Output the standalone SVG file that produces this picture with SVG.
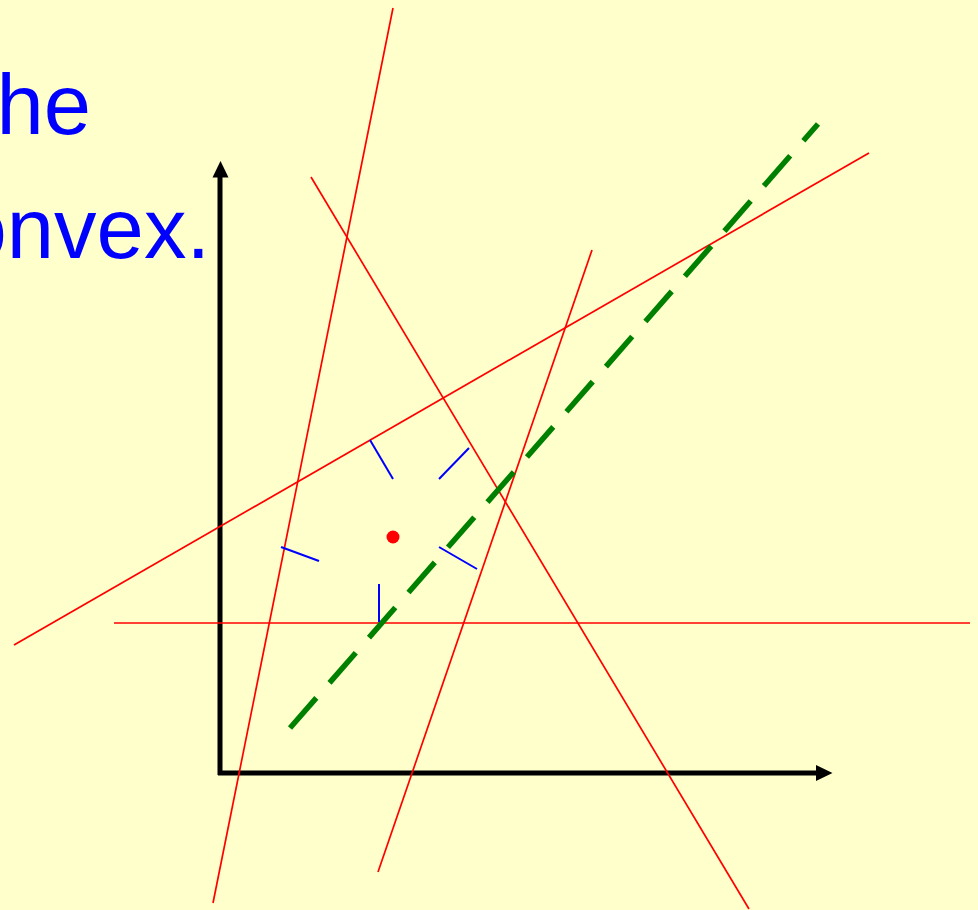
<svg xmlns="http://www.w3.org/2000/svg" width="978" height="910" viewBox="0 0 978 910">
<style>
.bg{fill:#FFFFCC}
.txt{font-family:"Liberation Sans",Arial,sans-serif;font-size:85px;fill:#0000FF}
.red{stroke:#FF0000;stroke-width:1.7;fill:none}
.normal{stroke:#0000FF;stroke-width:2;fill:none}
.axis{stroke:#000000;stroke-width:5;fill:none}
.head{fill:#000000}
.green{stroke:#008000;stroke-width:5.5;fill:none;stroke-dasharray:40 20}
</style>
<rect class="bg" x="0" y="0" width="978" height="910"/>
<g id="text">
<text class="txt" x="91" y="134" text-anchor="end">he</text>
<text class="txt" x="210" y="258" text-anchor="end">onvex.</text>
</g>
<g id="axes">
<line class="axis" x1="220" y1="775" x2="220" y2="174"/>
<polygon class="head" points="220.5,161 212.5,177.5 228.5,177.5"/>
<line class="axis" x1="218" y1="773" x2="819" y2="773"/>
<polygon class="head" points="832.5,773 816,765 816,781"/>
</g>
<g id="connectors">
<line class="red" x1="393" y1="8" x2="213" y2="903"/>
<line class="red" x1="311" y1="177" x2="749" y2="909"/>
<line class="red" x1="592" y1="250" x2="378" y2="872"/>
<line class="red" x1="869" y1="153" x2="14" y2="645"/>
<line class="red" x1="114" y1="623" x2="970" y2="623"/>
<line class="green" x1="290" y1="728" x2="818" y2="124"/>
</g>
<g id="normals">
<line class="normal" x1="370" y1="440" x2="393" y2="479"/>
<line class="normal" x1="469" y1="448" x2="439" y2="479"/>
<line class="normal" x1="281" y1="547" x2="319" y2="561"/>
<line class="normal" x1="439" y1="547" x2="477" y2="569"/>
<line class="normal" x1="379" y1="584" x2="379" y2="622"/>
</g>
<g id="point">
<circle cx="393" cy="537" r="6.5" fill="#FF0000"/>
</g>
</svg>
